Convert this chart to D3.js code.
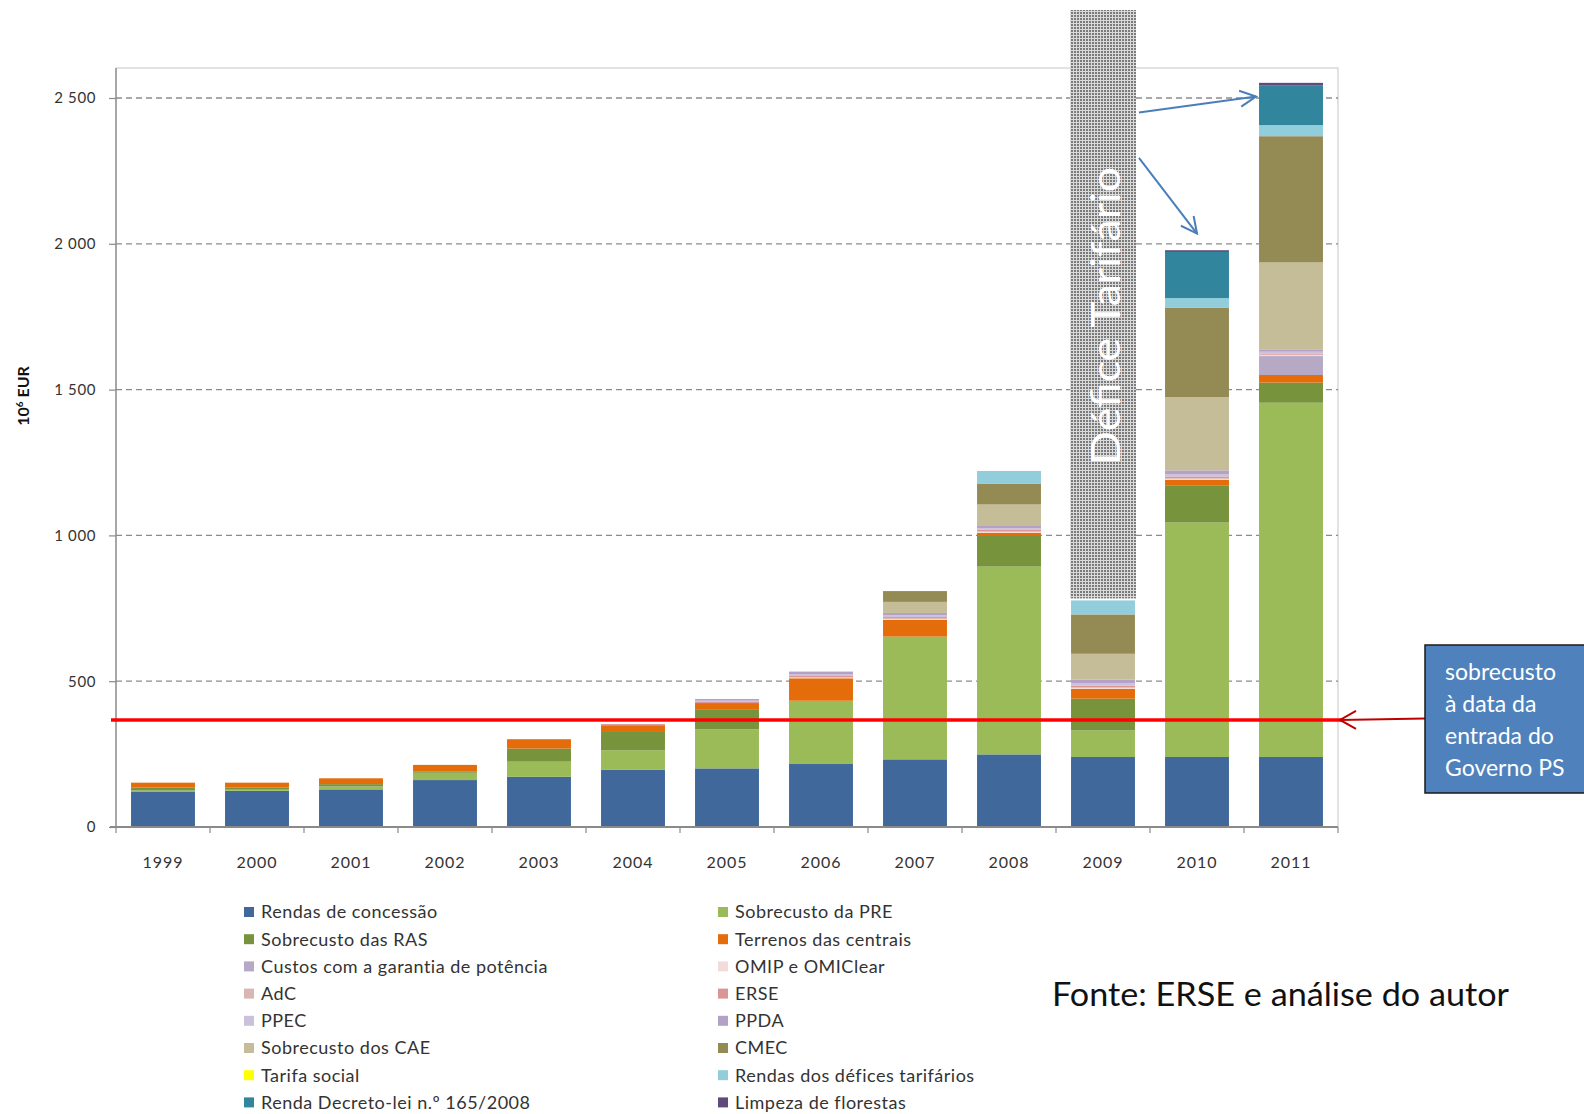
<!DOCTYPE html>
<html>
<head>
<meta charset="utf-8">
<script src="https://cdnjs.cloudflare.com/ajax/libs/d3/7.8.5/d3.min.js"></script>
<style>
  html, body { margin: 0; padding: 0; background: #fff; }
  svg { display: block; }
</style>
</head>
<body>
<svg id="chart" width="1584" height="1114"></svg>
<script>
// ---------------- DATA ----------------
const years = ["1999","2000","2001","2002","2003","2004","2005","2006","2007","2008","2009","2010","2011"];
const yTicks = [0, 500, 1000, 1500, 2000, 2500];
const yTickLabels = ["0", "500", "1 000", "1 500", "2 000", "2 500"];

const seriesNames = [
  "Rendas de concessão", "Sobrecusto da PRE", "Sobrecusto das RAS", "Terrenos das centrais",
  "Custos com a garantia de potência", "OMIP e OMIClear", "AdC", "ERSE",
  "PPEC", "PPDA", "Sobrecusto dos CAE", "CMEC",
  "Tarifa social", "Rendas dos défices tarifários", "Renda Decreto-lei n.º 165/2008", "Limpeza de florestas"
];
const seriesColors = [
  "#41689b", "#9bbb59", "#77933c", "#e46c0a",
  "#b5a9c6", "#f2dcdb", "#d7b6b4", "#d99694",
  "#ccc1da", "#b3a2c7", "#c4bd97", "#948a54",
  "#ffff00", "#92cddc", "#31859c", "#604a7b"
];

const rendasConcessao = [120, 124, 129, 161, 172, 197, 201, 216, 232, 249, 240, 240, 240];
const sobrecustoPRE   = [  5,   4,  10,  25,  52,  66, 134, 217, 421, 644,  91, 804, 1215];
const sobrecustoRAS   = [ 10,   8,   8,   5,  45,  66,  69,   0,   0, 105, 109, 128,  69];
const terrenos        = [ 17,  16,  20,  22,  32,  20,  21,  77,  57,  11,  34,  19,  26];
const garantia        = [  0,   0,   0,   0,   0,   0,   0,   0,   0,   0,   0,   0,  65];
const omip            = [  0,   0,   0,   0,   0,   0,   0,   2,   3,   3,   3,   3,   3];
const adc             = [  0,   0,   0,   0,   0,   0,   0,   2,   2,   2,   2,   2,   2];
const erse            = [  0,   0,   0,   0,   0,   4,   4,   4,   5,   5,   6,   6,   4];
const ppec            = [  0,   0,   0,   0,   0,   0,   4,   5,   6,   6,   8,   8,   6];
const ppda            = [  0,   0,   0,   0,   0,   0,   6,  10,   8,  10,  12,  13,   8];
const sobrecustoCAE   = [  0,   0,   0,   0,   0,   0,   0,   0,  38,  71,  89, 251, 298];
const cmec            = [  0,   0,   0,   0,   0,   0,   0,   0,  37,  72, 135, 306, 433];
const tarifaSocial    = [  0,   0,   0,   0,   0,   0,   0,   0,   0,   0,   0,   0,   0];
const rendasDefices   = [  0,   0,   0,   0,   0,   0,   0,   0,   0,  43,  48,  34,  38];
const rendaDL165      = [  0,   0,   0,   0,   0,   0,   0,   0,   0,   0,   0, 158, 137];
const limpeza         = [  0,   0,   0,   0,   0,   0,   0,   0,   0,   0,   0,   6,   8];

const seriesValues = [rendasConcessao, sobrecustoPRE, sobrecustoRAS, terrenos, garantia, omip, adc, erse,
  ppec, ppda, sobrecustoCAE, cmec, tarifaSocial, rendasDefices, rendaDL165, limpeza];

const sobrecustoEntradaGoverno = 367;   // red reference line value
const deficeLabel = "Défice Tarifário";
const deficeYear = "2009";
const boxLines = ["sobrecusto", "à data da", "entrada do", "Governo PS"];
const sourceText = "Fonte: ERSE e análise do autor";

// ---------------- BUILD TABLE ----------------
const table = years.map((y, i) => {
  const row = { year: y };
  seriesNames.forEach((n, k) => row[n] = seriesValues[k][i]);
  return row;
});
const stacked = d3.stack().keys(seriesNames)(table);
const totals = years.map((y, i) => d3.sum(seriesValues, s => s[i]));

// ---------------- SCALES ----------------
const svg = d3.select("#chart");
const font = "Lato, 'Open Sans', sans-serif";
const x = d3.scaleBand().domain(years).range([116, 1338]).paddingInner(0.32).paddingOuter(0.16);
const y = d3.scaleLinear().domain([0, 2500]).range([827, 98]);
const color = d3.scaleOrdinal().domain(seriesNames).range(seriesColors);

svg.append("rect").attr("width", 1584).attr("height", 1114).attr("fill", "#fff");

// plot frame (top & right)
const plotTop = y(2603);
svg.append("path")
  .attr("d", `M116,${plotTop}H1338V827`)
  .attr("fill", "none").attr("stroke", "#d9d9d9").attr("stroke-width", 1.5);

// gridlines
svg.append("g").selectAll("line").data(yTicks.filter(t => t > 0)).join("line")
  .attr("x1", 116).attr("x2", 1338)
  .attr("y1", d => y(d)).attr("y2", d => y(d))
  .attr("stroke", "#8c8c8c").attr("stroke-width", 1.3).attr("stroke-dasharray", "6,4");

// bars
svg.append("g").selectAll("g").data(stacked).join("g")
  .attr("fill", d => color(d.key))
  .selectAll("rect").data(d => d).join("rect")
  .attr("x", d => x(d.data.year))
  .attr("width", x.bandwidth())
  .attr("y", d => y(d[1]))
  .attr("height", d => Math.max(0, y(d[0]) - y(d[1])));

// y axis
const yAxis = d3.axisLeft(y).tickValues(yTicks).tickSize(7)
  .tickFormat((d, i) => yTickLabels[i]);
const gy = svg.append("g").attr("transform", "translate(116,0)").call(yAxis);
gy.select(".domain").attr("d", `M0,${plotTop}V827`).attr("stroke", "#8a8a8a").attr("stroke-width", 1.5);
gy.selectAll(".tick line").attr("stroke", "#8a8a8a").attr("stroke-width", 1.2);
gy.selectAll(".tick text").attr("x", -20).attr("font-family", font).attr("font-size", 15)
  .attr("fill", "#333").attr("letter-spacing", "0.6px");

// x axis
const xAxis = d3.axisBottom(x).tickSize(0).tickPadding(30);
const gx = svg.append("g").attr("transform", "translate(0,827)").call(xAxis);
gx.select(".domain").attr("d", "M110,0H1338").attr("stroke", "#8a8a8a").attr("stroke-width", 2);
gx.selectAll(".tick text").attr("font-family", font).attr("font-size", 16).attr("fill", "#333")
  .attr("letter-spacing", "1px");
// category boundary ticks
const bounds = years.map(yv => x(yv) - x.step() * x.paddingInner() / 2).concat([1338]);
svg.append("g").selectAll("line").data(bounds).join("line")
  .attr("x1", d => d).attr("x2", d => d).attr("y1", 827).attr("y2", 833)
  .attr("stroke", "#8a8a8a").attr("stroke-width", 1.2);

// y axis title
const yt = svg.append("text").attr("transform", "translate(29,396) rotate(-90)")
  .attr("text-anchor", "middle").attr("font-family", font).attr("font-weight", "bold")
  .attr("font-size", 16).attr("fill", "#111");
yt.append("tspan").text("10");
yt.append("tspan").attr("font-size", 10).attr("dy", -6).text("6");
yt.append("tspan").attr("dy", 6).text(" EUR");

// Défice tarifário hatched rectangle
const defs = svg.append("defs");
const pat = defs.append("pattern").attr("id", "dots").attr("width", 3).attr("height", 3)
  .attr("patternUnits", "userSpaceOnUse");
pat.append("rect").attr("width", 3).attr("height", 3).attr("fill", "#dadada");
pat.append("rect").attr("width", 2).attr("height", 2).attr("fill", "#7a7a7a");
const di = years.indexOf(deficeYear);
const dTop = 10, dBottom = y(totals[di]) - 2;
svg.append("rect").attr("x", x(deficeYear) - 1).attr("width", x.bandwidth() + 2)
  .attr("y", dTop).attr("height", dBottom - dTop).attr("fill", "url(#dots)");
svg.append("text").attr("transform", `translate(${x(deficeYear) + x.bandwidth() * 0.77},316) rotate(-90)`)
  .attr("text-anchor", "middle").attr("font-family", font).attr("font-size", 40)
  .attr("fill", "#fff").attr("textLength", 298).attr("lengthAdjust", "spacingAndGlyphs")
  .text(deficeLabel);

// blue arrows
defs.append("marker").attr("id", "bluehead").attr("viewBox", "0 0 20 20")
  .attr("refX", 18).attr("refY", 10).attr("markerWidth", 20).attr("markerHeight", 20)
  .attr("markerUnits", "userSpaceOnUse").attr("orient", "auto")
  .append("path").attr("d", "M2,2L18,10L2,18").attr("fill", "none")
  .attr("stroke", "#4a7ebb").attr("stroke-width", 2);
const xStartArrow = x(deficeYear) + x.bandwidth() + 4;
svg.append("line").attr("x1", xStartArrow).attr("y1", y(2450)).attr("x2", x("2011") - 3).attr("y2", y(2505))
  .attr("stroke", "#4a7ebb").attr("stroke-width", 2).attr("marker-end", "url(#bluehead)");
svg.append("line").attr("x1", xStartArrow).attr("y1", y(2295)).attr("x2", x("2010") + x.bandwidth() / 2)
  .attr("y2", y(2035))
  .attr("stroke", "#4a7ebb").attr("stroke-width", 2).attr("marker-end", "url(#bluehead)");

// red reference line
const yr = y(sobrecustoEntradaGoverno);
svg.append("line").attr("x1", 111).attr("x2", 1342).attr("y1", yr).attr("y2", yr)
  .attr("stroke", "#ff0000").attr("stroke-width", 3.5);
// red arrow from box
svg.append("line").attr("x1", 1425).attr("y1", yr - 1.5).attr("x2", 1340).attr("y2", yr)
  .attr("stroke", "#c00000").attr("stroke-width", 2);
svg.append("path").attr("d", `M1356,${yr - 9}L1340,${yr}L1356,${yr + 9}`)
  .attr("fill", "none").attr("stroke", "#c00000").attr("stroke-width", 2);

// annotation box
svg.append("rect").attr("x", 1425).attr("y", 645).attr("width", 165).attr("height", 148)
  .attr("fill", "#4f81bd").attr("stroke", "#1a1a1a").attr("stroke-width", 1.5);
svg.append("g").selectAll("text").data(boxLines).join("text")
  .attr("x", 1445).attr("y", (d, i) => 680 + i * 32)
  .attr("font-family", font).attr("font-size", 23).attr("fill", "#fff")
  .text(d => d);

// legend
const leg = svg.append("g");
const legItems = leg.selectAll("g").data(seriesNames).join("g")
  .attr("transform", (d, i) => `translate(${i % 2 === 0 ? 244 : 718},${912 + Math.floor(i / 2) * 27.2})`);
legItems.append("rect").attr("x", 0).attr("y", -5).attr("width", 10).attr("height", 10)
  .attr("fill", d => color(d));
legItems.append("text").attr("x", 17).attr("y", 0).attr("dy", "0.35em")
  .attr("font-family", font).attr("font-size", 18).attr("fill", "#333")
  .attr("letter-spacing", "0.5px")
  .text(d => d);

// source text
svg.append("text").attr("x", 1052).attr("y", 1006).attr("font-family", font)
  .attr("font-size", 32).attr("fill", "#111").attr("textLength", 457)
  .attr("lengthAdjust", "spacingAndGlyphs").text(sourceText);
</script>
</body>
</html>
